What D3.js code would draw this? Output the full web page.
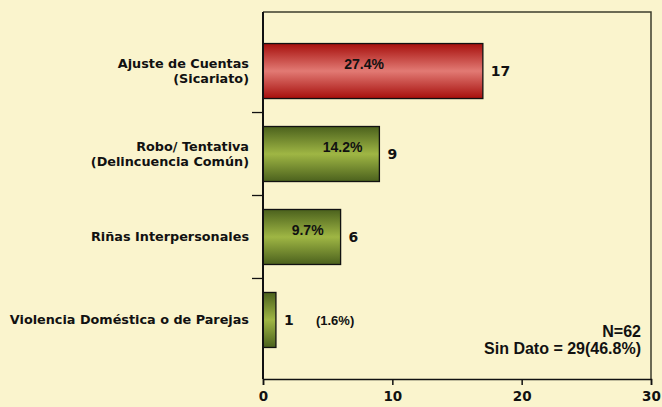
<!DOCTYPE html>
<html><head><meta charset="utf-8">
<script src="https://cdn.jsdelivr.net/npm/d3@7"></script>
<style>html,body{margin:0;padding:0;background:#faf4cd;}svg{display:block;}</style>
</head><body>
<script>
const categories = [["Ajuste de Cuentas","(Sicariato)"],["Robo/ Tentativa","(Delincuencia Común)"],["Riñas Interpersonales"],["Violencia Doméstica o de Parejas"]];
const values = [17, 9, 6, 1];
const percents = ["27.4%", "14.2%", "9.7%", "(1.6%)"];
const xTicks = [0, 10, 20, 30];
const noteLines = ["N=62", "Sin Dato = 29(46.8%)"];

const W = 662, H = 407;
const svg = d3.select("body").append("svg").attr("width", W).attr("height", H);
svg.append("rect").attr("width", W).attr("height", H).attr("fill", "#faf4cd");

const defs = svg.append("defs");
function grad(id, edge, mid) {
  const g = defs.append("linearGradient").attr("id", id).attr("x1", 0).attr("y1", 0).attr("x2", 0).attr("y2", 1);
  g.append("stop").attr("offset", "0%").attr("stop-color", edge);
  g.append("stop").attr("offset", "50%").attr("stop-color", mid);
  g.append("stop").attr("offset", "100%").attr("stop-color", edge);
}
grad("gRed", "#a60f0c", "#e27a74");
grad("gGreen", "#4b611d", "#9fb644");

const pL = 263, pR = 651, pT = 12, pB = 379;
const x = d3.scaleLinear().domain([0, 30]).range([pL, pR]);
const idx = d3.range(categories.length);
const y = d3.scaleBand().domain(idx).range([pT, pB]).paddingInner(0.337).paddingOuter(0.38);

// frame
svg.append("path").attr("d", `M${pL},${pT}H${pR}V${pB}`).attr("fill", "none").attr("stroke", "#3d3d2c").attr("stroke-width", 1.5);

// bars
svg.selectAll("rect.bar").data(idx).join("rect").attr("class", "bar")
  .attr("x", x(0)).attr("y", i => y(i))
  .attr("width", i => x(values[i]) - x(0)).attr("height", y.bandwidth())
  .attr("fill", i => i === 0 ? "url(#gRed)" : "url(#gGreen)")
  .attr("stroke", "#111").attr("stroke-width", 1.3);

// x axis
const xAxis = svg.append("g").attr("transform", `translate(0,${pB})`)
  .call(d3.axisBottom(x).tickValues(xTicks).tickSize(6).tickPadding(6).tickFormat(d3.format("d")));
xAxis.select(".domain").attr("stroke", "#111").attr("stroke-width", 1.5);
xAxis.selectAll(".tick line").attr("stroke", "#111").attr("stroke-width", 1.5);
xAxis.selectAll(".tick text").attr("font-family", "DejaVu Sans, Verdana, sans-serif").attr("font-weight", "bold").attr("font-size", 13.5).attr("fill", "#111");

// y axis line
svg.append("line").attr("x1", pL).attr("x2", pL).attr("y1", pT).attr("y2", pB).attr("stroke", "#111").attr("stroke-width", 2);
// category separator ticks
const gap = y.step() - y.bandwidth();
svg.selectAll("line.sep").data(idx.slice(0, -1)).join("line").attr("class", "sep")
  .attr("x1", pL - 11).attr("x2", pL)
  .attr("y1", i => y(i) + y.bandwidth() + gap / 2).attr("y2", i => y(i) + y.bandwidth() + gap / 2)
  .attr("stroke", "#111").attr("stroke-width", 1.3);

// category labels
const catG = svg.selectAll("text.cat").data(idx).join("text").attr("class", "cat")
  .attr("text-anchor", "end").attr("font-family", "DejaVu Sans, Verdana, sans-serif")
  .attr("font-weight", "bold").attr("font-size", 12.8).attr("fill", "#111");
catG.each(function(i) {
  const lines = categories[i];
  const cy = y(i) + y.bandwidth() / 2;
  const lh = 15;
  const startY = cy - (lines.length - 1) * lh / 2 + 4.5;
  d3.select(this).selectAll("tspan").data(lines).join("tspan")
    .attr("x", pL - 14).attr("y", (d, k) => startY + k * lh).text(d => d);
});

// value labels
svg.selectAll("text.val").data(idx).join("text").attr("class", "val")
  .attr("x", i => x(values[i]) + 8).attr("y", i => y(i) + y.bandwidth() / 2 + 5)
  .attr("font-family", "DejaVu Sans, Verdana, sans-serif").attr("font-weight", "bold")
  .attr("font-size", 14).attr("fill", "#111").text(i => values[i]);

// percent labels
svg.selectAll("text.pct").data(idx).join("text").attr("class", "pct")
  .attr("x", i => values[i] > 12 ? x(values[i] * 0.46) : (values[i] > 2 ? x(values[i]) - 17 : x(values[i]) + 40))
  .attr("text-anchor", i => values[i] > 12 ? "middle" : (values[i] > 2 ? "end" : "start"))
  .attr("y", i => y(i) + y.bandwidth() / 2 + (values[i] > 2 ? -2 : 5))
  .attr("font-family", "Liberation Sans, Arial, sans-serif").attr("font-weight", "bold")
  .attr("font-size", i => values[i] > 2 ? 14 : 13).attr("fill", "#111").text(i => percents[i]);

// note
svg.selectAll("text.note").data(noteLines).join("text").attr("class", "note")
  .attr("x", 641).attr("y", (d, k) => 337 + k * 17).attr("text-anchor", "end")
  .attr("font-family", "Liberation Sans, Arial, sans-serif").attr("font-weight", "bold")
  .attr("font-size", 16).attr("fill", "#111").text(d => d);
</script>
</body></html>
